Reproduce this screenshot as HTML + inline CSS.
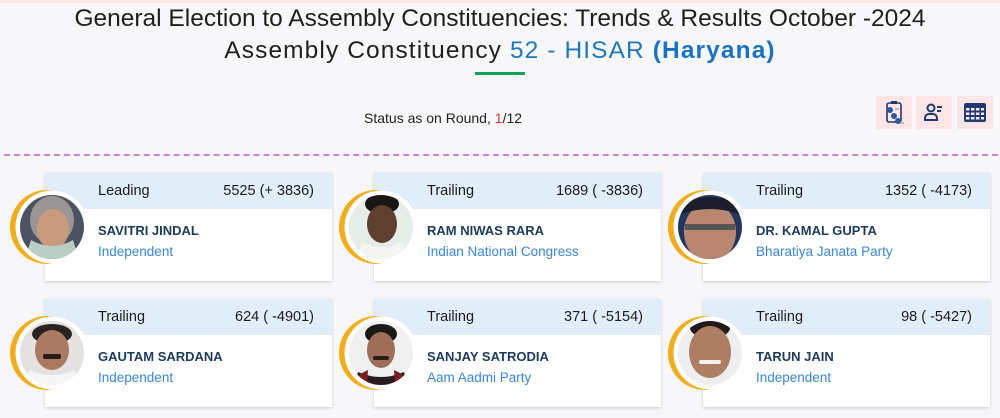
<!DOCTYPE html>
<html><head><meta charset="utf-8">
<style>
*{margin:0;padding:0;box-sizing:border-box}
html,body{width:1000px;height:418px;overflow:hidden;background:#f7f7fa;font-family:"Liberation Sans",sans-serif}
.topbar{position:absolute;left:0;top:0;width:1000px;height:3px;background:#fbe9e2}
.t1{position:absolute;left:0;width:1000px;text-align:center;color:#1f1f1f;font-size:24.5px;white-space:nowrap}
.blue{color:#1f78b8}
.bb{color:#1a72c2;font-weight:bold}
.green{position:absolute;left:475px;top:72px;width:50px;height:3px;background:#15a05a}
.status{position:absolute;left:364px;top:110px;font-size:14px;color:#222;white-space:nowrap}
.status .r{color:#e03030}
.ib{position:absolute;top:96px;width:36px;height:33px;background:#fde4e6}
.dash{position:absolute;left:4px;top:154px;width:994px;height:0;border-top:2px dashed #d77cd8}
.card{position:absolute;width:287px;height:108px;background:#fff;box-shadow:0 1px 3px rgba(0,0,0,0.18)}
.card .hd{position:absolute;left:0;top:0;width:100%;height:36px;background:#e2edfa}
.card .st{position:absolute;left:53px;top:10px;font-size:14.5px;color:#1c1c1c}
.card .vt{position:absolute;right:18px;top:10px;font-size:14.5px;color:#1c1c1c}
.card .nm{position:absolute;left:53px;top:50px;font-size:13px;font-weight:bold;color:#1d3a5e;white-space:nowrap}
.card .pt{position:absolute;left:53px;top:71px;font-size:13.5px;color:#3a85d8;white-space:nowrap}
.ph{position:absolute;width:90px;height:90px}
</style></head><body>
<div class="topbar"></div>
<div class="t1" style="top:5px">General Election to Assembly Constituencies: Trends &amp; Results October -2024</div>
<div class="t1" style="top:37px;letter-spacing:1.1px">Assembly Constituency <span class="blue">52 - HISAR</span> <span class="bb">(Haryana)</span></div>
<div class="green"></div>
<div class="status">Status as on Round, <span class="r">1</span>/12</div>

<div class="ib" style="left:876px"><svg width="36" height="33" viewBox="0 0 36 33"><rect x="11" y="7" width="14" height="19" rx="2" fill="none" stroke="#1e3a6e" stroke-width="1.6"/><rect x="15" y="5" width="6" height="3" fill="#1e3a6e"/><circle cx="14" cy="14" r="3" fill="#2b5a9a"/><circle cx="18" cy="20" r="3" fill="#2b5a9a"/><circle cx="22" cy="25" r="3" fill="#2b5a9a"/><line x1="19" y1="13" x2="23" y2="13" stroke="#888" stroke-width="1"/><line x1="24" y1="27" x2="28" y2="27" stroke="#888" stroke-width="1"/></svg></div>
<div class="ib" style="left:916px"><svg width="36" height="33" viewBox="0 0 36 33"><circle cx="15" cy="12" r="3.5" fill="none" stroke="#1e3a6e" stroke-width="2"/><path d="M9 24 v-2 a4 4 0 0 1 4 -4 h4 a4 4 0 0 1 4 4 v2 z" fill="none" stroke="#1e3a6e" stroke-width="2"/><line x1="21" y1="11" x2="26" y2="11" stroke="#1e3a6e" stroke-width="2"/><line x1="21" y1="15" x2="25" y2="15" stroke="#1e3a6e" stroke-width="2"/></svg></div>
<div class="ib" style="left:957px"><svg width="36" height="33" viewBox="0 0 36 33"><rect x="7" y="7" width="22" height="19" rx="2" fill="#1e3a6e"/><g fill="#fde4e6"><rect x="9" y="12" width="3.5" height="2.5"/><rect x="14" y="12" width="3.5" height="2.5"/><rect x="19" y="12" width="3.5" height="2.5"/><rect x="24" y="12" width="3" height="2.5"/><rect x="9" y="16.5" width="3.5" height="2.5"/><rect x="14" y="16.5" width="3.5" height="2.5"/><rect x="19" y="16.5" width="3.5" height="2.5"/><rect x="24" y="16.5" width="3" height="2.5"/><rect x="9" y="21" width="3.5" height="2.5"/><rect x="14" y="21" width="3.5" height="2.5"/><rect x="19" y="21" width="3.5" height="2.5"/><rect x="24" y="21" width="3" height="2.5"/></g></svg></div>

<div class="dash"></div>

<!-- Row 1 -->
<div class="card" style="left:45px;top:173px"><div class="hd"></div><div class="st">Leading</div><div class="vt">5525 (+ 3836)</div><div class="nm">SAVITRI JINDAL</div><div class="pt">Independent</div></div>
<div class="card" style="left:374px;top:173px"><div class="hd"></div><div class="st">Trailing</div><div class="vt">1689 ( -3836)</div><div class="nm">RAM NIWAS RARA</div><div class="pt">Indian National Congress</div></div>
<div class="card" style="left:703px;top:173px"><div class="hd"></div><div class="st">Trailing</div><div class="vt">1352 ( -4173)</div><div class="nm">DR. KAMAL GUPTA</div><div class="pt">Bharatiya Janata Party</div></div>
<!-- Row 2 -->
<div class="card" style="left:45px;top:299px"><div class="hd"></div><div class="st">Trailing</div><div class="vt">624 ( -4901)</div><div class="nm">GAUTAM SARDANA</div><div class="pt">Independent</div></div>
<div class="card" style="left:374px;top:299px"><div class="hd"></div><div class="st">Trailing</div><div class="vt">371 ( -5154)</div><div class="nm">SANJAY SATRODIA</div><div class="pt">Aam Aadmi Party</div></div>
<div class="card" style="left:703px;top:299px"><div class="hd"></div><div class="st">Trailing</div><div class="vt">98 ( -5427)</div><div class="nm">TARUN JAIN</div><div class="pt">Independent</div></div>

<svg class="ph" style="left:7px;top:182px" viewBox="0 0 90 90"><defs><clipPath id="c1"><circle cx="45" cy="45" r="32"/></clipPath></defs>
<circle cx="40" cy="45" r="37" fill="#f2ac1c"/><circle cx="45" cy="45" r="36.5" fill="#fff"/>
<g clip-path="url(#c1)"><rect width="90" height="90" fill="#4d5262"/><ellipse cx="45" cy="38" rx="22" ry="24" fill="#9a9693"/><ellipse cx="46" cy="47" rx="16" ry="20" fill="#c99a7e"/><path d="M14 90 L24 58 Q45 70 66 58 L76 90 Z" fill="#b9cfc4"/></g></svg>

<svg class="ph" style="left:336px;top:182px" viewBox="0 0 90 90"><defs><clipPath id="c2"><circle cx="45" cy="45" r="32"/></clipPath></defs>
<circle cx="40" cy="45" r="37" fill="#f2ac1c"/><circle cx="45" cy="45" r="36.5" fill="#fff"/>
<g clip-path="url(#c2)"><rect width="90" height="90" fill="#e6ece8"/><ellipse cx="46" cy="22" rx="17" ry="10" fill="#1a1614"/><ellipse cx="46" cy="42" rx="15" ry="19" fill="#5e3f30"/><path d="M18 90 L26 60 Q46 70 66 60 L74 90 Z" fill="#f4f4f2"/></g></svg>

<svg class="ph" style="left:665px;top:182px" viewBox="0 0 90 90"><defs><clipPath id="c3"><circle cx="45" cy="45" r="32"/></clipPath></defs>
<circle cx="40" cy="45" r="37" fill="#f2ac1c"/><circle cx="45" cy="45" r="36.5" fill="#fff"/>
<g clip-path="url(#c3)"><rect width="90" height="90" fill="#24365e"/><ellipse cx="45" cy="50" rx="26" ry="30" fill="#b98670"/><rect x="20" y="42" width="50" height="6" fill="#555"/><path d="M16 22 Q45 8 74 22 L74 32 Q45 22 16 32 Z" fill="#1c1e2c"/></g></svg>

<svg class="ph" style="left:7px;top:308px" viewBox="0 0 90 90"><defs><clipPath id="c4"><circle cx="45" cy="45" r="32"/></clipPath></defs>
<circle cx="40" cy="45" r="37" fill="#f2ac1c"/><circle cx="45" cy="45" r="36.5" fill="#fff"/>
<g clip-path="url(#c4)"><rect width="90" height="90" fill="#e4e2e0"/><ellipse cx="45" cy="26" rx="20" ry="10" fill="#2a2220"/><ellipse cx="45" cy="42" rx="17" ry="20" fill="#a87a62"/><rect x="36" y="46" width="18" height="5" rx="2" fill="#2a1c18"/><path d="M14 90 L22 62 Q45 72 68 62 L76 90 Z" fill="#f5f5f5"/></g></svg>

<svg class="ph" style="left:336px;top:308px" viewBox="0 0 90 90"><defs><clipPath id="c5"><circle cx="45" cy="45" r="32"/></clipPath></defs>
<circle cx="40" cy="45" r="37" fill="#f2ac1c"/><circle cx="45" cy="45" r="36.5" fill="#fff"/>
<g clip-path="url(#c5)"><rect width="90" height="90" fill="#f0f0f0"/><ellipse cx="45" cy="26" rx="16" ry="10" fill="#1c1816"/><ellipse cx="45" cy="42" rx="14" ry="18" fill="#9e6e58"/><rect x="37" y="48" width="16" height="4" rx="2" fill="#2a1c18"/><path d="M14 90 L22 64 Q45 74 68 64 L76 90 Z" fill="#2a1c1e"/><path d="M24 66 L32 62 L30 90 L22 90 Z" fill="#7a1e22"/><path d="M66 66 L58 62 L60 90 L68 90 Z" fill="#7a1e22"/></g></svg>

<svg class="ph" style="left:665px;top:308px" viewBox="0 0 90 90"><defs><clipPath id="c6"><circle cx="45" cy="45" r="32"/></clipPath></defs>
<circle cx="40" cy="45" r="37" fill="#f2ac1c"/><circle cx="45" cy="45" r="36.5" fill="#fff"/>
<g clip-path="url(#c6)"><rect width="90" height="90" fill="#eeeeee"/><ellipse cx="45" cy="20" rx="20" ry="10" fill="#221a18"/><ellipse cx="45" cy="44" rx="21" ry="26" fill="#ad7d64"/><rect x="34" y="52" width="22" height="4" rx="2" fill="#f4f0ec"/><path d="M16 90 L22 74 Q45 80 68 74 L74 90 Z" fill="#e8e8e8"/></g></svg>
</body></html>
